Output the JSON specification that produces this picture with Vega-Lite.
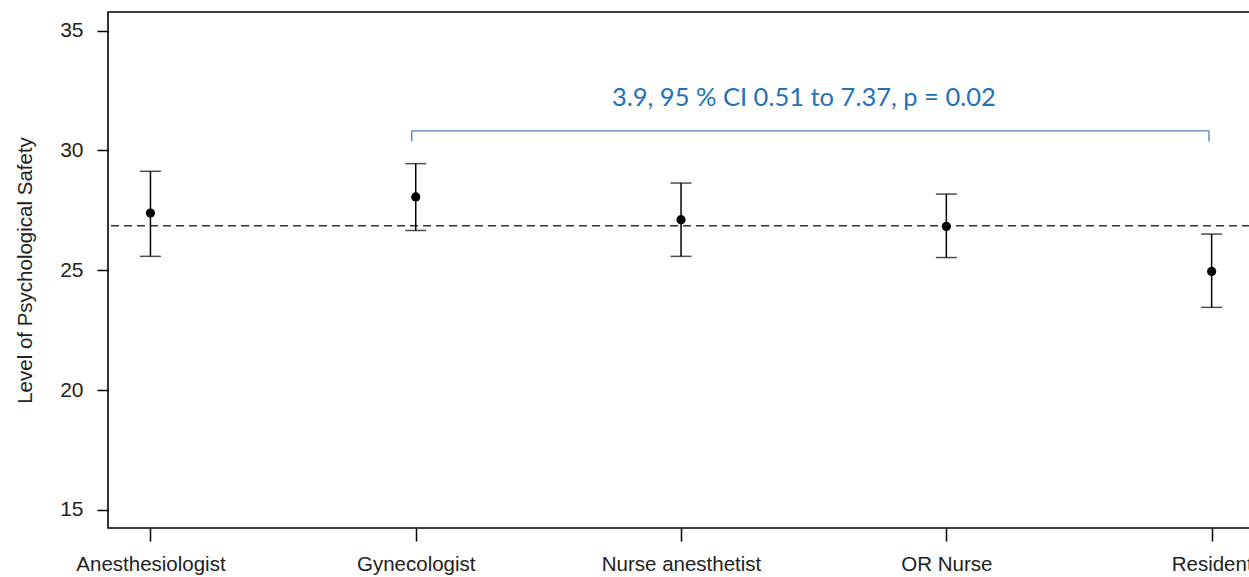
{
  "$schema": "https://vega.github.io/schema/vega-lite/v6.json",
  "autosize": {"type": "none"},
  "padding": {"left": 108, "top": 12, "right": 0, "bottom": 49},
  "width": 1142,
  "height": 516,
  "background": "white",
  "config": {
    "view": {"stroke": "#000", "strokeWidth": 1.6},
    "axis": {
      "grid": false,
      "domain": false,
      "labelFont": "Liberation Sans",
      "titleFont": "Liberation Sans",
      "labelColor": "#222",
      "titleColor": "#222",
      "tickColor": "#000",
      "tickWidth": 1.5,
      "labelFontSize": 21,
      "titleFontWeight": "normal"
    }
  },
  "datasets": {
    "groups": [
      {"idx": 1, "group": "Anesthesiologist", "mean": 27.39, "lower": 25.58, "upper": 29.13},
      {"idx": 2, "group": "Gynecologist", "mean": 28.06, "lower": 26.66, "upper": 29.45},
      {"idx": 3, "group": "Nurse anesthetist", "mean": 27.11, "lower": 25.58, "upper": 28.64},
      {"idx": 4, "group": "OR Nurse", "mean": 26.83, "lower": 25.53, "upper": 28.18},
      {"idx": 5, "group": "Resident", "mean": 24.95, "lower": 23.45, "upper": 26.51}
    ],
    "overall": [{"overall": 26.86}],
    "bracket": [
      {"x": 1.985, "x2": 4.99, "y": 30.82, "y2": 30.82},
      {"x": 1.985, "x2": 1.985, "y": 30.82, "y2": 30.37},
      {"x": 4.99, "x2": 4.99, "y": 30.82, "y2": 30.37}
    ],
    "label": [{"x": 3.463, "y": 32.2, "text": "3.9, 95 % CI 0.51 to 7.37, p = 0.02"}]
  },
  "layer": [
    {
      "data": {"name": "overall"},
      "mark": {"type": "rule", "color": "#333", "strokeWidth": 1.5, "strokeDash": [8, 5]},
      "encoding": {
        "y": {
          "field": "overall", "type": "quantitative",
          "scale": {"domain": [14.24, 35.78], "nice": false, "zero": false},
          "axis": {
            "values": [15, 20, 25, 30, 35],
            "tickSize": 11,
            "labelPadding": 14,
            "title": "Level of Psychological Safety",
            "titleFontSize": 20.5,
            "titlePadding": 24
          }
        }
      }
    },
    {
      "data": {"name": "groups"},
      "mark": {"type": "rule", "color": "#000", "strokeWidth": 1.5},
      "encoding": {
        "x": {
          "field": "idx", "type": "quantitative",
          "scale": {"domain": [0.84, 5.1446], "nice": false, "zero": false},
          "axis": {
            "values": [1, 2, 3, 4, 5],
            "tickSize": 13,
            "labelPadding": 13,
            "labelFontSize": 20.5,
            "title": null,
            "labelExpr": "['Anesthesiologist','Gynecologist','Nurse anesthetist','OR Nurse','Resident'][datum.value - 1]"
          }
        },
        "y": {"field": "lower", "type": "quantitative"},
        "y2": {"field": "upper"}
      }
    },
    {
      "data": {"name": "groups"},
      "mark": {"type": "tick", "color": "#000", "orient": "horizontal", "size": 21, "thickness": 1.5},
      "encoding": {
        "x": {"field": "idx", "type": "quantitative"},
        "y": {"field": "upper", "type": "quantitative"}
      }
    },
    {
      "data": {"name": "groups"},
      "mark": {"type": "tick", "color": "#000", "orient": "horizontal", "size": 21, "thickness": 1.5},
      "encoding": {
        "x": {"field": "idx", "type": "quantitative"},
        "y": {"field": "lower", "type": "quantitative"}
      }
    },
    {
      "data": {"name": "groups"},
      "mark": {"type": "circle", "color": "#000", "size": 85, "opacity": 1},
      "encoding": {
        "x": {"field": "idx", "type": "quantitative"},
        "y": {"field": "mean", "type": "quantitative"}
      }
    },
    {
      "data": {"name": "bracket"},
      "mark": {"type": "rule", "color": "#4F7FB3", "strokeWidth": 1.3},
      "encoding": {
        "x": {"field": "x", "type": "quantitative"},
        "x2": {"field": "x2"},
        "y": {"field": "y", "type": "quantitative"},
        "y2": {"field": "y2"}
      }
    },
    {
      "data": {"name": "label"},
      "mark": {"type": "text", "font": "Lato", "fontSize": 25.5, "color": "#2272B9", "align": "center", "baseline": "middle"},
      "encoding": {
        "x": {"field": "x", "type": "quantitative"},
        "y": {"field": "y", "type": "quantitative"},
        "text": {"field": "text"}
      }
    }
  ]
}
